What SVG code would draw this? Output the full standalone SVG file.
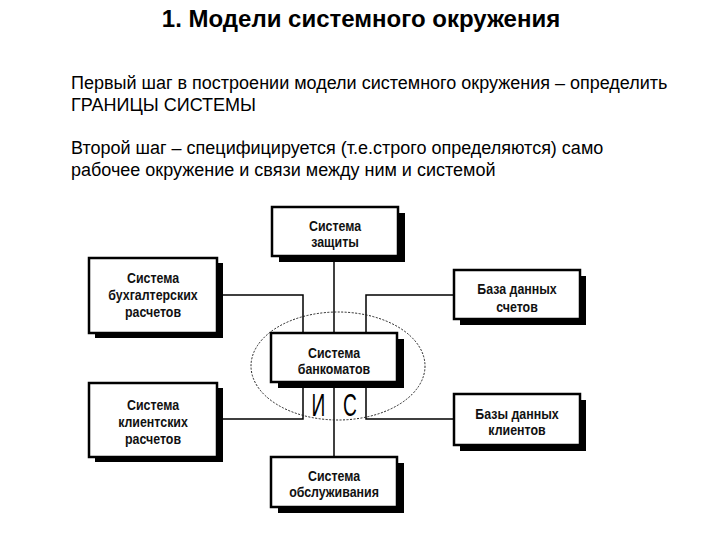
<svg xmlns="http://www.w3.org/2000/svg" width="720" height="540" viewBox="0 0 720 540">
<style>
.shadow{fill:#000}
.box{fill:#fff;stroke:#000;stroke-width:2.5}
.lbl{font-family:"Liberation Sans",Arial,sans-serif;font-weight:bold;font-size:15.5px;fill:#111;text-anchor:middle}
.con{fill:none;stroke:#000;stroke-width:1.5}
.title{font-family:"Liberation Sans",Arial,sans-serif;font-weight:bold;font-size:24px;fill:#000;text-anchor:middle}
.body{font-family:"Liberation Sans",Arial,sans-serif;font-size:18px;fill:#000}
.ic{font-family:"Liberation Sans",Arial,sans-serif;font-size:32px;fill:#000;text-anchor:middle}
</style>
<rect width="720" height="540" fill="#fff"/>
<text class="title" x="361" y="27">1. Модели системного окружения</text>
<text class="body" x="71" y="89">Первый шаг в построении модели системного окружения – определить</text>
<text class="body" x="71" y="111">ГРАНИЦЫ СИСТЕМЫ</text>
<text class="body" x="71" y="154">Второй шаг – специфицируется (т.е.строго определяются) само</text>
<text class="body" x="71" y="176">рабочее окружение и связи между ним и системой</text>

<g id="connectors">
<line class="con" x1="334" y1="255" x2="334" y2="333"/>
<line class="con" x1="334" y1="382" x2="334" y2="457"/>
<polyline class="con" points="217,295 303,295 303,333"/>
<polyline class="con" points="366,333 366,295 454,295"/>
<polyline class="con" points="303,382 303,419 217,419"/>
<polyline class="con" points="366,382 366,419 454,419"/>
</g>

<g id="boundary">
<ellipse cx="338" cy="366" rx="87" ry="54" fill="none" stroke="#222" stroke-width="1" stroke-dasharray="2 1.5"/>
<text class="ic" x="0" y="0" transform="translate(318.5,416) scale(0.6,1)">И</text>
<text class="ic" x="0" y="0" transform="translate(350,416) scale(0.6,1)">С</text>
</g>

<g id="node-zashchita">
<rect class="shadow" x="279" y="213" width="126" height="49"/>
<rect class="box" x="272" y="207" width="126" height="49"/>
<text class="lbl" transform="translate(335,231) scale(0.8,1)">Система</text>
<text class="lbl" transform="translate(335,247) scale(0.8,1)">защиты</text>
</g>

<g id="node-buh">
<rect class="shadow" x="95" y="263" width="128" height="75"/>
<rect class="box" x="89" y="258" width="128" height="75"/>
<text class="lbl" transform="translate(153,283) scale(0.8,1)">Система</text>
<text class="lbl" transform="translate(153,300) scale(0.8,1)">бухгалтерских</text>
<text class="lbl" transform="translate(153,317) scale(0.8,1)">расчетов</text>
</g>

<g id="node-bd-schetov">
<rect class="shadow" x="460" y="276" width="126" height="49"/>
<rect class="box" x="454" y="270" width="126" height="49"/>
<text class="lbl" transform="translate(517,294) scale(0.8,1)">База данных</text>
<text class="lbl" transform="translate(517,312) scale(0.8,1)">счетов</text>
</g>

<g id="node-bankomaty">
<rect class="shadow" x="278" y="339" width="126" height="49"/>
<rect class="box" x="271" y="333" width="126" height="49"/>
<text class="lbl" transform="translate(334,358) scale(0.8,1)">Система</text>
<text class="lbl" transform="translate(334,374) scale(0.8,1)">банкоматов</text>
</g>

<g id="node-klient">
<rect class="shadow" x="95" y="388" width="128" height="74"/>
<rect class="box" x="89" y="383" width="128" height="74"/>
<text class="lbl" transform="translate(153,410) scale(0.8,1)">Система</text>
<text class="lbl" transform="translate(153,427) scale(0.8,1)">клиентских</text>
<text class="lbl" transform="translate(153,444) scale(0.8,1)">расчетов</text>
</g>

<g id="node-bd-klientov">
<rect class="shadow" x="460" y="400" width="126" height="51"/>
<rect class="box" x="454" y="394" width="126" height="51"/>
<text class="lbl" transform="translate(517,419) scale(0.8,1)">Базы данных</text>
<text class="lbl" transform="translate(517,435) scale(0.8,1)">клиентов</text>
</g>

<g id="node-obsluzh">
<rect class="shadow" x="278" y="463" width="126" height="50"/>
<rect class="box" x="271" y="457" width="126" height="50"/>
<text class="lbl" transform="translate(334,481) scale(0.8,1)">Система</text>
<text class="lbl" transform="translate(334,497) scale(0.8,1)">обслуживания</text>
</g>
</svg>
